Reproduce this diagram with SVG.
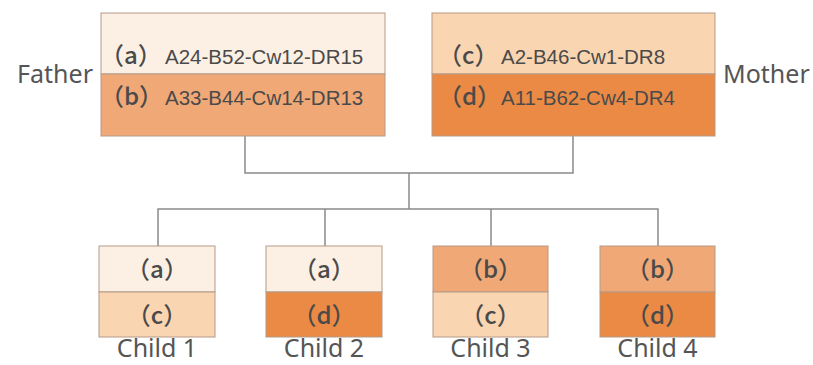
<svg xmlns="http://www.w3.org/2000/svg" width="813" height="365" viewBox="0 0 813 365">
<style>
.box{stroke:#b59a86;stroke-width:1}
.ca{fill:#fcf0e4}
.cb{fill:#f0a877}
.cc{fill:#f9d5b1}
.cd{fill:#ea8a45}
.par{font-family:"Noto Sans CJK SC","Noto Sans",sans-serif;font-size:24px;font-weight:500;fill:#4a4a4a}
.code{font-family:"Liberation Sans",Arial,sans-serif;font-size:20.5px;fill:#4a4a4a}
.lbl{font-family:"Noto Sans","Open Sans",sans-serif;font-size:25px;fill:#555}
.conn{stroke:#8a8a8a;stroke-width:1.5;fill:none}
</style>
<rect width="813" height="365" fill="#fff"/>
<g id="connectors">
<path class="conn" d="M245,136 V173 H573 V136"/>
<path class="conn" d="M409,173 V209"/>
<path class="conn" d="M158,246 V209 H658 V246"/>
<path class="conn" d="M325,209 V246"/>
<path class="conn" d="M491,209 V246"/>
</g>
<g id="father">
<rect class="box ca" x="101" y="13" width="284" height="61"/>
<rect class="box cb" x="101" y="74" width="284" height="62"/>
<text class="par" x="100" y="64">（a）</text>
<text class="code" x="165" y="64">A24-B52-Cw12-DR15</text>
<text class="par" x="100" y="105">（b）</text>
<text class="code" x="165" y="105">A33-B44-Cw14-DR13</text>
<text class="lbl" x="93" y="83" text-anchor="end">Father</text>
</g>
<g id="mother">
<rect class="box cc" x="432" y="13" width="283" height="61"/>
<rect class="box cd" x="432" y="74" width="283" height="62"/>
<text class="par" x="438" y="64">（c）</text>
<text class="code" x="501" y="64">A2-B46-Cw1-DR8</text>
<text class="par" x="438" y="105">（d）</text>
<text class="code" x="501" y="105">A11-B62-Cw4-DR4</text>
<text class="lbl" x="723" y="83">Mother</text>
</g>
<g id="child1">
<rect class="box ca" x="99" y="246" width="116" height="46"/>
<rect class="box cc" x="99" y="292" width="116" height="45"/>
<text class="par" x="157" y="278" text-anchor="middle">（a）</text>
<text class="par" x="157" y="324" text-anchor="middle">（c）</text>
<text class="lbl" x="157" y="357" text-anchor="middle">Child 1</text>
</g>
<g id="child2">
<rect class="box ca" x="266" y="246" width="116" height="46"/>
<rect class="box cd" x="266" y="292" width="116" height="45"/>
<text class="par" x="324" y="278" text-anchor="middle">（a）</text>
<text class="par" x="324" y="324" text-anchor="middle">（d）</text>
<text class="lbl" x="324" y="357" text-anchor="middle">Child 2</text>
</g>
<g id="child3">
<rect class="box cb" x="433" y="246" width="115" height="46"/>
<rect class="box cc" x="433" y="292" width="115" height="45"/>
<text class="par" x="490.5" y="278" text-anchor="middle">（b）</text>
<text class="par" x="490.5" y="324" text-anchor="middle">（c）</text>
<text class="lbl" x="490.5" y="357" text-anchor="middle">Child 3</text>
</g>
<g id="child4">
<rect class="box cb" x="600" y="246" width="115" height="46"/>
<rect class="box cd" x="600" y="292" width="115" height="45"/>
<text class="par" x="657.5" y="278" text-anchor="middle">（b）</text>
<text class="par" x="657.5" y="324" text-anchor="middle">（d）</text>
<text class="lbl" x="657.5" y="357" text-anchor="middle">Child 4</text>
</g>
</svg>
